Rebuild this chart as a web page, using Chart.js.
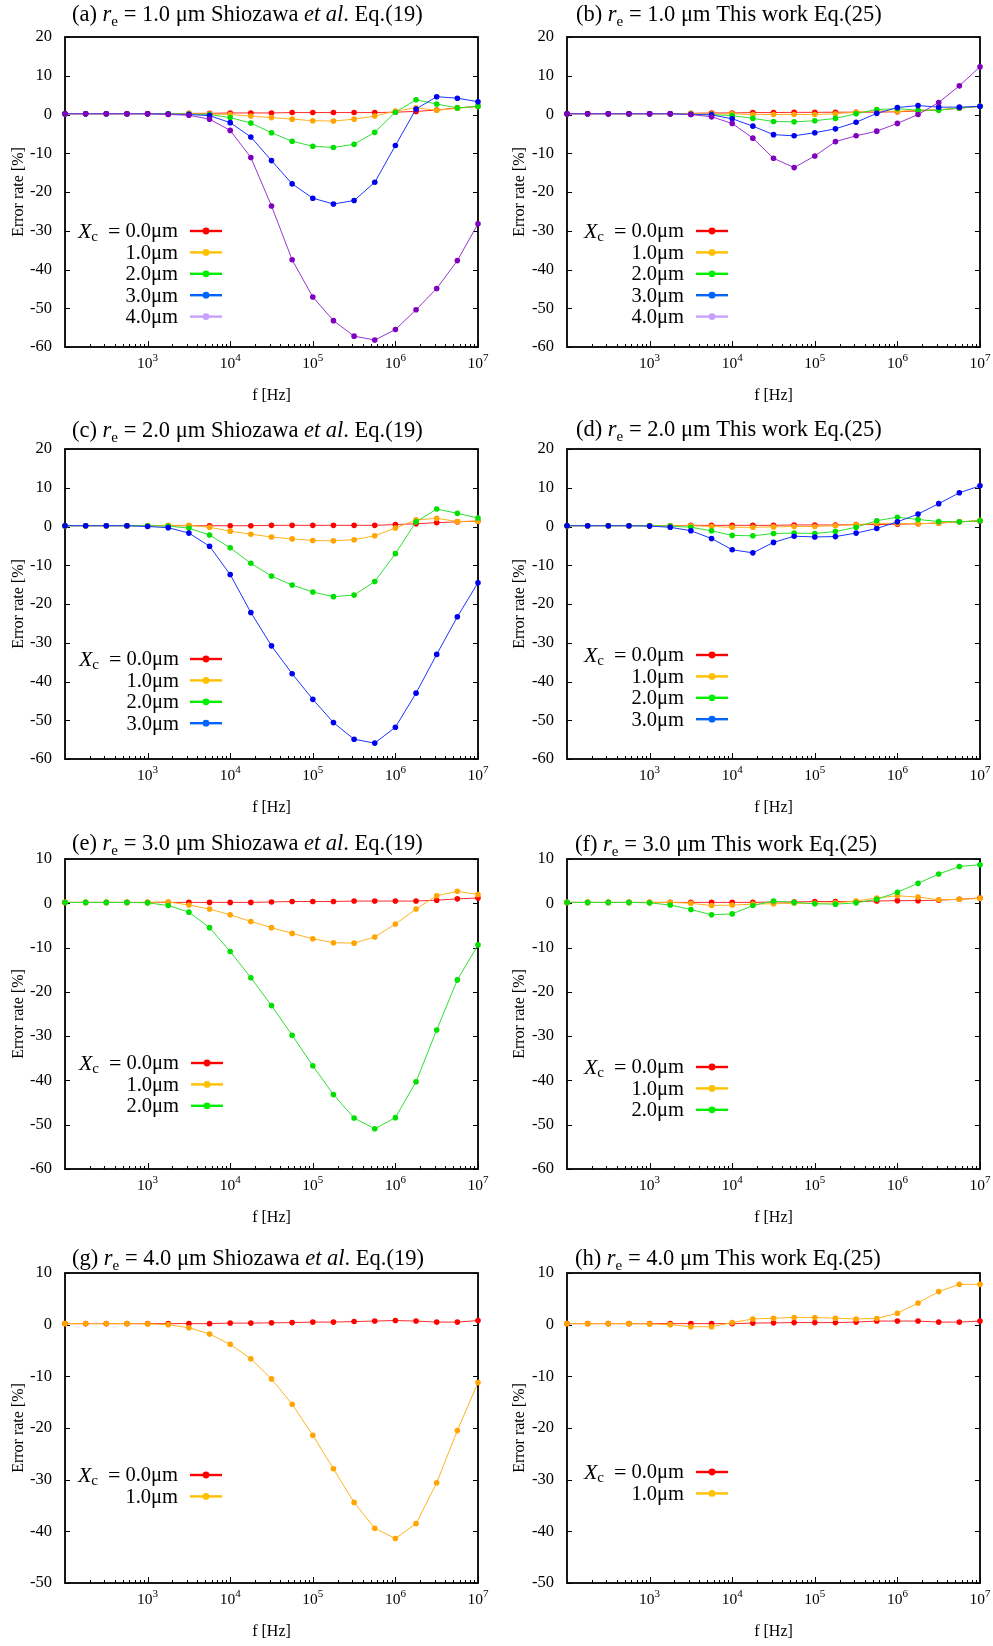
<!DOCTYPE html>
<html>
<head>
<meta charset="utf-8">
<title>Error rate vs frequency</title>
<script src="https://cdn.jsdelivr.net/npm/chart.js@4.4.1/dist/chart.umd.min.js"></script>
<style>
  html, body { margin: 0; padding: 0; background: #fff; }
  #page { position: relative; width: 993px; height: 1646px; overflow: hidden; }
  #page canvas { position: absolute; }
</style>
</head>
<body>
<div id="page"></div>
<script>
// frequency grid, four points per decade
const freqHz = [1e2, 1.778e2, 3.162e2, 5.623e2, 1e3, 1.778e3, 3.162e3, 5.623e3, 1e4, 1.778e4, 3.162e4,
  5.623e4, 1e5, 1.778e5, 3.162e5, 5.623e5, 1e6, 1.778e6, 3.162e6, 5.623e6, 1e7];
const decadeTicks = [1e3, 1e4, 1e5, 1e6, 1e7];
const xcLabels = ['0.0μm', '1.0μm', '2.0μm', '3.0μm', '4.0μm'];

// r_e = 1.0 um, Shiozawa et al. Eq.(19)
const shioRe1Xc0 = [0.2, 0.2, 0.2, 0.2, 0.2, 0.2, 0.3, 0.3, 0.4, 0.4, 0.4, 0.5, 0.5, 0.5, 0.5, 0.5, 0.6, 0.8, 1.15, 1.7, 2.1];
const shioRe1Xc1 = [0.2, 0.2, 0.2, 0.2, 0.2, 0.2, 0.2, 0.1, 0, -0.4, -0.8, -1.2, -1.6, -1.7, -1.2, -0.4, 0.9, 1.7, 1.1, 1.6, 2.1];
const shioRe1Xc2 = [0.2, 0.2, 0.2, 0.2, 0.2, 0.2, 0.1, 0, -0.8, -2.2, -4.7, -6.9, -8.2, -8.5, -7.7, -4.6, 0.6, 3.8, 2.7, 1.7, 2.1];
const shioRe1Xc3 = [0.2, 0.2, 0.2, 0.2, 0.2, 0.1, 0, -0.3, -2.1, -5.8, -11.9, -17.9, -21.6, -23.1, -22.2, -17.5, -8.0, 1.4, 4.6, 4.2, 3.3];
const shioRe1Xc4 = [0.2, 0.2, 0.2, 0.2, 0.2, 0, -0.2, -1.2, -4.1, -11.1, -23.6, -37.5, -47.1, -53.2, -57.2, -58.2, -55.5, -50.4, -44.9, -37.7, -28.2];

// r_e = 1.0 um, this work Eq.(25)
const thisRe1Xc0 = [0.2, 0.2, 0.2, 0.2, 0.2, 0.2, 0.3, 0.4, 0.4, 0.5, 0.5, 0.55, 0.55, 0.6, 0.6, 0.6, 0.7, 0.9, 1.2, 1.6, 2.1];
const thisRe1Xc1 = [0.2, 0.2, 0.2, 0.2, 0.2, 0.2, 0.2, 0.1, 0.2, 0, 0, 0, 0, 0.2, 0.6, 1.0, 0.8, 1.1, 1.2, 1.7, 2.1];
const thisRe1Xc2 = [0.2, 0.2, 0.2, 0.2, 0.2, 0.2, 0.1, 0, -0.3, -1.0, -1.8, -1.9, -1.6, -1.0, 0.2, 1.3, 1.5, 1.1, 1.1, 1.7, 2.1];
const thisRe1Xc3 = [0.2, 0.2, 0.2, 0.2, 0.2, 0.2, 0, -0.1, -1.1, -3.0, -5.2, -5.5, -4.7, -3.7, -2.0, 0.3, 1.8, 2.3, 1.9, 1.9, 2.1];
const thisRe1Xc4 = [0.2, 0.2, 0.2, 0.2, 0.2, 0.2, 0, -0.6, -2.3, -6.1, -11.3, -13.7, -10.7, -7.0, -5.5, -4.3, -2.3, 0, 3.1, 7.4, 12.3];

// r_e = 2.0 um
const shioRe2Xc0 = [0.2, 0.2, 0.2, 0.2, 0.2, 0.2, 0.2, 0.2, 0.2, 0.2, 0.3, 0.3, 0.3, 0.3, 0.3, 0.3, 0.5, 0.7, 1.0, 1.2, 1.4];
const shioRe2Xc1 = [0.2, 0.2, 0.2, 0.2, 0.2, 0.3, 0.3, -0.2, -1.2, -2.0, -2.7, -3.2, -3.6, -3.7, -3.4, -2.4, -0.4, 1.7, 2.1, 1.3, 1.4];
const shioRe2Xc2 = [0.2, 0.2, 0.2, 0.2, 0.2, 0.1, -0.4, -2.2, -5.5, -9.5, -12.8, -15.1, -16.9, -18.1, -17.7, -14.2, -7.0, 1.2, 4.5, 3.4, 2.2];
const shioRe2Xc3 = [0.2, 0.2, 0.2, 0.2, 0, -0.3, -1.7, -5.1, -12.4, -22.2, -30.8, -38.0, -44.6, -50.6, -54.9, -55.9, -51.8, -43.0, -33.0, -23.3, -14.5];

const thisRe2Xc0 = [0.2, 0.2, 0.2, 0.2, 0.2, 0.2, 0.3, 0.3, 0.3, 0.3, 0.3, 0.4, 0.4, 0.4, 0.5, 0.5, 0.6, 0.7, 0.9, 1.2, 1.4];
const thisRe2Xc1 = [0.2, 0.2, 0.2, 0.2, 0.2, 0.2, 0.2, 0, -0.2, -0.2, -0.1, 0, 0, 0.2, 0.5, 0.8, 0.8, 0.7, 0.9, 1.2, 1.6];
const thisRe2Xc2 = [0.2, 0.2, 0.2, 0.2, 0.2, 0.1, -0.2, -1.1, -2.3, -2.4, -1.8, -1.7, -1.8, -1.3, -0.2, 1.5, 2.4, 1.8, 1.3, 1.2, 1.5];
const thisRe2Xc3 = [0.2, 0.2, 0.2, 0.2, 0.1, -0.2, -1.1, -3.1, -6.0, -6.8, -4.1, -2.5, -2.7, -2.6, -1.7, -0.5, 1.2, 3.2, 5.9, 8.7, 10.5];

// r_e = 3.0 um
const shioRe3Xc0 = [0.2, 0.2, 0.2, 0.2, 0.2, 0.2, 0.2, 0.2, 0.2, 0.2, 0.3, 0.4, 0.4, 0.4, 0.5, 0.5, 0.5, 0.5, 0.7, 1.0, 1.2];
const shioRe3Xc1 = [0.2, 0.2, 0.2, 0.2, 0.2, 0.3, -0.4, -1.3, -2.6, -4.1, -5.5, -6.8, -8.0, -8.9, -9.0, -7.6, -4.7, -1.3, 1.7, 2.7, 2.0];
const shioRe3Xc2 = [0.2, 0.2, 0.2, 0.2, 0.1, -0.5, -2.0, -5.5, -10.9, -16.8, -23.1, -29.8, -36.7, -43.2, -48.5, -50.9, -48.4, -40.3, -28.6, -17.3, -9.4];

const thisRe3Xc0 = [0.2, 0.2, 0.2, 0.2, 0.2, 0.2, 0.2, 0.2, 0.2, 0.2, 0.3, 0.3, 0.4, 0.4, 0.4, 0.5, 0.6, 0.6, 0.7, 0.9, 1.2];
const thisRe3Xc1 = [0.2, 0.2, 0.2, 0.2, 0.2, 0.2, 0, -0.5, -0.4, -0.2, -0.1, 0, 0, 0.1, 0.5, 1.2, 1.7, 1.4, 0.8, 0.9, 1.1];
const thisRe3Xc2 = [0.2, 0.2, 0.2, 0.2, 0.1, -0.4, -1.4, -2.6, -2.4, -0.5, 0.5, 0.2, -0.1, -0.2, 0.1, 0.9, 2.5, 4.5, 6.6, 8.3, 8.7];

// r_e = 4.0 um
const shioRe4Xc0 = [0.2, 0.2, 0.2, 0.2, 0.2, 0.2, 0.2, 0.2, 0.3, 0.3, 0.35, 0.4, 0.5, 0.5, 0.6, 0.7, 0.8, 0.7, 0.5, 0.5, 0.8];
const shioRe4Xc1 = [0.2, 0.2, 0.2, 0.2, 0.15, 0, -0.6, -1.8, -3.8, -6.6, -10.5, -15.4, -21.4, -27.9, -34.4, -39.4, -41.4, -38.5, -30.6, -20.5, -11.2];

const thisRe4Xc0 = [0.2, 0.2, 0.2, 0.2, 0.2, 0.2, 0.2, 0.2, 0.2, 0.3, 0.35, 0.4, 0.4, 0.4, 0.5, 0.7, 0.7, 0.7, 0.5, 0.5, 0.7];
const thisRe4Xc1 = [0.2, 0.2, 0.2, 0.2, 0.15, 0, -0.4, -0.4, 0.4, 1.1, 1.25, 1.4, 1.4, 1.25, 1.1, 1.2, 2.2, 4.2, 6.4, 7.8, 7.8];

// curve / point / legend colours per X_c
const lineColors = ['#ff2a2a', '#ffb21e', '#2ee02e', '#1a36ff', '#9a34d2'];
const pointColors = ['#ff0000', '#ffa400', '#00e000', '#0000f0', '#8000c0'];
const legendColors = ['#ff0000', '#ffc000', '#00ee00', '#0064ff', '#c8a0ff'];

const SERIF = '"Liberation Serif", "Times New Roman", serif';

const panels = [
  { tag: 'a', re: '1.0', shio: true,  col: 0, row: 0, yMin: -60, yMax: 20, series: [shioRe1Xc0, shioRe1Xc1, shioRe1Xc2, shioRe1Xc3, shioRe1Xc4],
    title: [72, 21], legend: [178, 190, 222, 231] },
  { tag: 'b', re: '1.0', shio: false, col: 1, row: 0, yMin: -60, yMax: 20, series: [thisRe1Xc0, thisRe1Xc1, thisRe1Xc2, thisRe1Xc3, thisRe1Xc4],
    title: [79, 21], legend: [187, 199, 231, 231] },
  { tag: 'c', re: '2.0', shio: true,  col: 0, row: 1, yMin: -60, yMax: 20, series: [shioRe2Xc0, shioRe2Xc1, shioRe2Xc2, shioRe2Xc3],
    title: [72, 24.5], legend: [179, 190, 222, 247] },
  { tag: 'd', re: '2.0', shio: false, col: 1, row: 1, yMin: -60, yMax: 20, series: [thisRe2Xc0, thisRe2Xc1, thisRe2Xc2, thisRe2Xc3],
    title: [79, 24], legend: [187, 199, 231, 243] },
  { tag: 'e', re: '3.0', shio: true,  col: 0, row: 2, yMin: -60, yMax: 10, series: [shioRe3Xc0, shioRe3Xc1, shioRe3Xc2],
    title: [72, 28], legend: [179, 191, 223, 241] },
  { tag: 'f', re: '3.0', shio: false, col: 1, row: 2, yMin: -60, yMax: 10, series: [thisRe3Xc0, thisRe3Xc1, thisRe3Xc2],
    title: [78, 28.5], legend: [187, 199, 231, 245] },
  { tag: 'g', re: '4.0', shio: true,  col: 0, row: 3, yMin: -50, yMax: 10, series: [shioRe4Xc0, shioRe4Xc1],
    title: [72, 29], legend: [178, 190, 222, 239] },
  { tag: 'h', re: '4.0', shio: false, col: 1, row: 3, yMin: -50, yMax: 10, series: [thisRe4Xc0, thisRe4Xc1],
    title: [78, 29], legend: [187, 199, 231, 236] },
];

const rowTops = [0, 412, 822, 1236];
const colLefts = [0, 497];
const colWidths = [497, 496];
const plotLefts = [65, 70];
const padLefts = [9, 13];
const padRights = [19, 13];

function drawRuns(ctx, runs, x, y) {
  runs.forEach(([text, font, dy]) => {
    ctx.font = font;
    ctx.fillText(text, x, y + (dy || 0));
    x += ctx.measureText(text).width;
  });
}

function runsWidth(ctx, runs) {
  return runs.reduce((w, [text, font]) => { ctx.font = font; return w + ctx.measureText(text).width; }, 0);
}

function titleRuns(p) {
  const N = '22.5px ' + SERIF, I = 'italic 22.5px ' + SERIF, S = '15px ' + SERIF;
  const head = [['(' + p.tag + ') ', N], ['r', I], ['e', S, 5]];
  if (p.shio) {
    return head.concat([[' = ' + p.re + ' μm Shiozawa ', N], ['et al', I], ['. Eq.(19)', N]]);
  }
  return head.concat([[' = ' + p.re + ' μm This work Eq.(25)', N]]);
}

// frame, inward ticks, decade labels, key and panel heading
const panelDecor = {
  id: 'panelDecor',
  beforeDatasetsDraw(chart, args, opts) {
    const { ctx, chartArea: a, scales: { x, y } } = chart;
    ctx.save();
    ctx.strokeStyle = '#000';
    ctx.lineWidth = 1;
    ctx.beginPath();
    y.ticks.forEach(t => {
      const py = Math.round(y.getPixelForValue(t.value)) + 0.5;
      ctx.moveTo(a.left, py); ctx.lineTo(a.left + 5, py);
      ctx.moveTo(a.right, py); ctx.lineTo(a.right - 5, py);
    });
    for (let d = 100; d < 1e7; d *= 10) {
      for (let m = 2; m <= 10; m++) {
        const px = Math.round(x.getPixelForValue(d * m)) + 0.5;
        const len = m === 10 ? 6 : 3;
        ctx.moveTo(px, a.bottom); ctx.lineTo(px, a.bottom - len);
      }
    }
    ctx.stroke();
    ctx.lineWidth = 1.8;
    ctx.strokeRect(a.left, a.top, a.right - a.left, a.bottom - a.top);

    ctx.fillStyle = '#000';
    ctx.textAlign = 'left';
    ctx.textBaseline = 'alphabetic';
    x.ticks.forEach(t => {
      const runs = [['10', '15.5px ' + SERIF], [String(Math.round(Math.log10(t.value))), '11px ' + SERIF, -7]];
      const px = x.getPixelForValue(t.value);
      drawRuns(ctx, runs, px - runsWidth(ctx, runs) / 2, a.bottom + 21);
    });
    ctx.restore();
  },
  afterDatasetsDraw(chart, args, opts) {
    const { ctx } = chart;
    const [right, x1, x2, y0] = opts.legend;
    ctx.save();
    ctx.textBaseline = 'middle';
    chart.data.datasets.forEach((ds, i) => {
      const ly = y0 + i * 21.4;
      ctx.strokeStyle = legendColors[i];
      ctx.lineWidth = 2.4;
      ctx.beginPath();
      ctx.moveTo(x1, ly); ctx.lineTo(x2, ly);
      ctx.stroke();
      ctx.fillStyle = legendColors[i];
      ctx.beginPath();
      ctx.arc((x1 + x2) / 2, ly, 3.4, 0, Math.PI * 2);
      ctx.fill();

      ctx.fillStyle = '#000';
      ctx.font = '20.5px ' + SERIF;
      ctx.textAlign = 'right';
      ctx.fillText(xcLabels[i], right, ly + 1);
      if (i === 0) {
        const valW = ctx.measureText(xcLabels[i]).width;
        const eqRight = right - valW - 5;
        ctx.font = '22px ' + SERIF;
        ctx.fillText('=', eqRight, ly + 1);
        const eqLeft = eqRight - ctx.measureText('=').width;
        ctx.font = '15px ' + SERIF;
        ctx.fillText('c', eqLeft - 10, ly + 6);
        const cLeft = eqLeft - 10 - ctx.measureText('c').width;
        ctx.font = 'italic 22px ' + SERIF;
        ctx.fillText('X', cLeft, ly + 1);
      }
    });
    ctx.restore();
  },
  afterDraw(chart, args, opts) {
    const { ctx } = chart;
    ctx.save();
    ctx.fillStyle = '#000';
    ctx.textAlign = 'left';
    ctx.textBaseline = 'alphabetic';
    drawRuns(ctx, opts.heading, opts.title[0], opts.title[1]);
    ctx.restore();
  }
};

const page = document.getElementById('page');

panels.forEach(p => {
  const canvas = document.createElement('canvas');
  canvas.width = colWidths[p.col];
  canvas.height = 410;
  canvas.style.left = colLefts[p.col] + 'px';
  canvas.style.top = rowTops[p.row] + 'px';
  page.appendChild(canvas);

  const n = p.series.length;
  new Chart(canvas, {
    type: 'line',
    data: {
      datasets: p.series.map((vals, i) => ({
        label: xcLabels[i],
        data: vals.map((v, k) => ({ x: freqHz[k], y: v })),
        borderColor: lineColors[i],
        backgroundColor: pointColors[i],
        pointBackgroundColor: pointColors[i],
        pointBorderWidth: 0,
        pointRadius: 2.8,
        borderWidth: 1,
        tension: 0,
        clip: false,
        order: n - i,
      })),
    },
    plugins: [panelDecor],
    options: {
      responsive: false,
      animation: false,
      events: [],
      layout: { padding: { left: padLefts[p.col], right: padRights[p.col], top: 37, bottom: 0 } },
      plugins: {
        legend: { display: false },
        tooltip: { enabled: false },
        panelDecor: { legend: p.legend, title: p.title, heading: titleRuns(p) },
      },
      scales: {
        x: {
          type: 'logarithmic',
          min: 100,
          max: 1e7,
          grid: { display: false, drawTicks: false },
          border: { display: false },
          ticks: { display: false },
          afterBuildTicks: s => { s.ticks = decadeTicks.map(v => ({ value: v })); },
          afterFit: s => { s.height = 63; },
          title: { display: true, text: 'f [Hz]', color: '#000', font: { family: SERIF, size: 16 }, padding: { top: 0, bottom: 5 } },
        },
        y: {
          min: p.yMin,
          max: p.yMax,
          grid: { display: false, drawTicks: false },
          border: { display: false },
          ticks: { stepSize: 10, color: '#000', font: { family: SERIF, size: 16.5 }, padding: 13 },
          afterFit: s => { s.width = plotLefts[p.col] - padLefts[p.col]; },
          title: { display: true, text: 'Error rate [%]', color: '#000', font: { family: SERIF, size: 16 }, padding: { top: 0, bottom: 0 } },
        },
      },
    },
  });
});
</script>
</body>
</html>
